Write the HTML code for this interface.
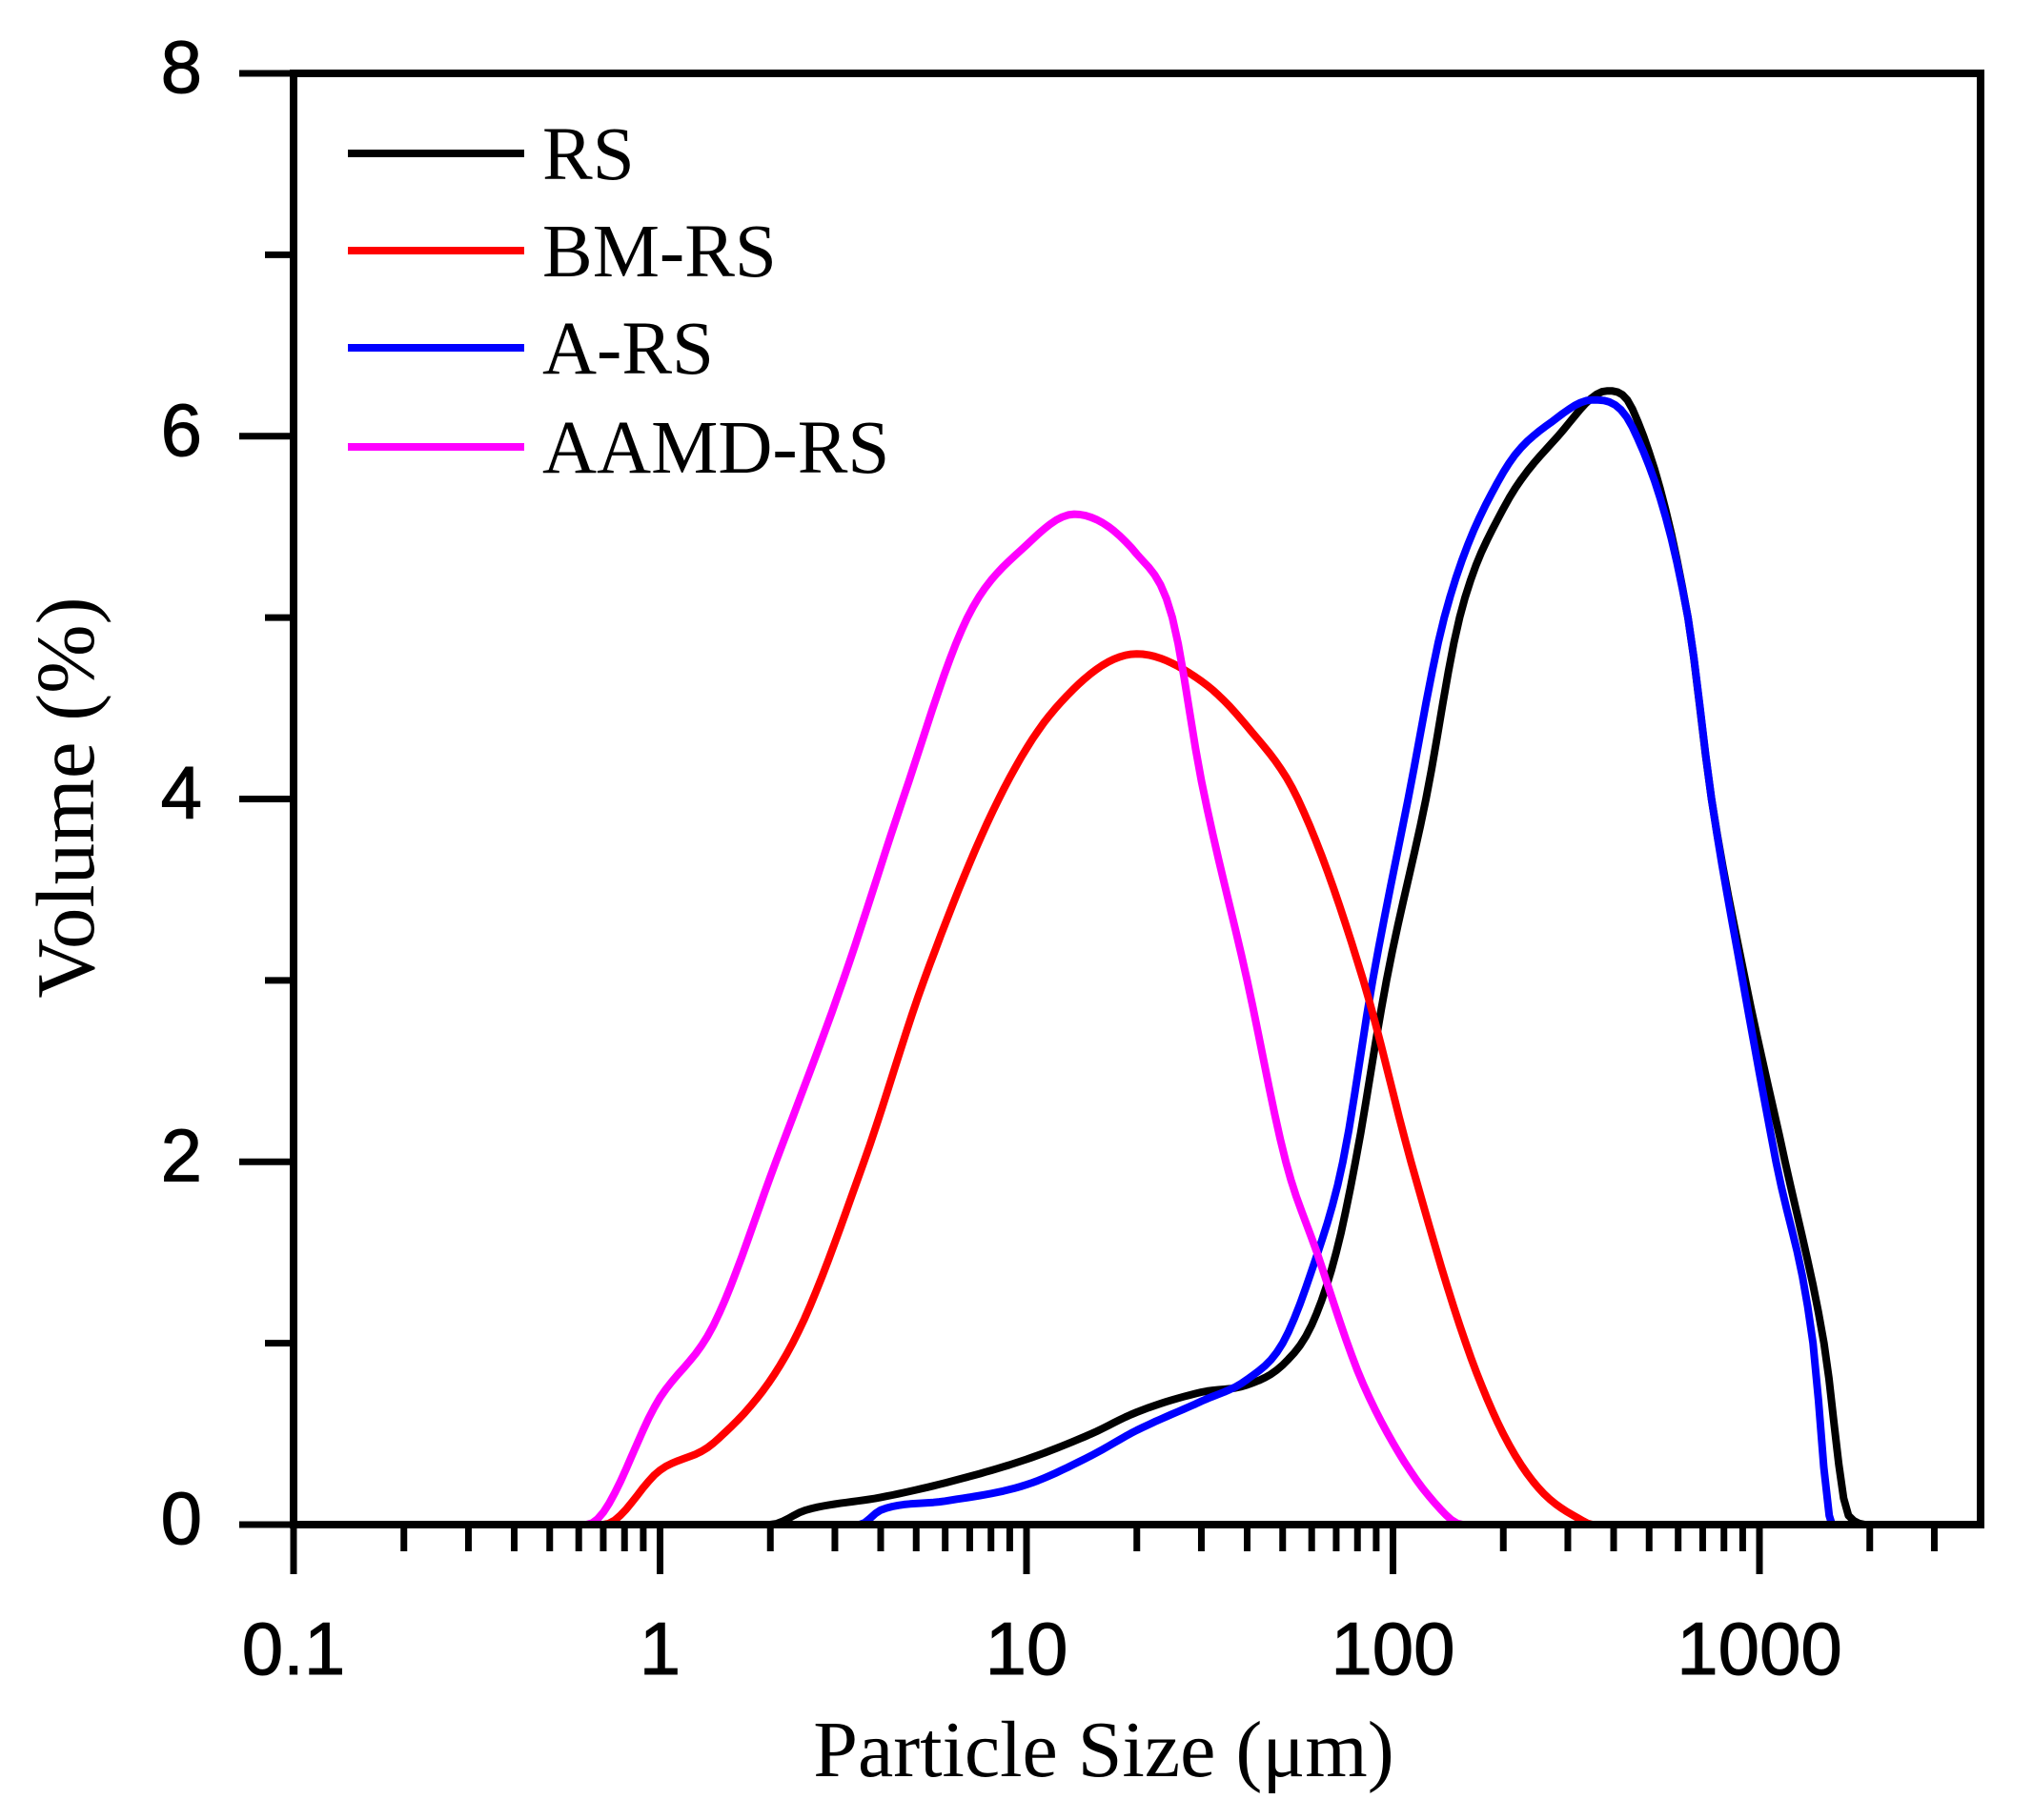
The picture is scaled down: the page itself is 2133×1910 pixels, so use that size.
<!DOCTYPE html>
<html><head><meta charset="utf-8"><style>
html,body{margin:0;padding:0;background:#fff;}
svg{display:block;}
</style></head><body>
<svg id="chart" width="2133" height="1910" xmlns="http://www.w3.org/2000/svg">
<g id="plot"></g>
</svg>
<script>
const seriesNames = ["RS","BM-RS","A-RS","AAMD-RS"];
const seriesColors = ["#000000","#ff0000","#0000ff","#ff00ff"];
const rsX = [0.1,2,2.5,4,6,10,15,20,30,40,50,60,70,79,96,123,152,200,282,385,450,638,740,915,1175,1500,1750,2000,3300];
const rsY = [0,0,0.08,0.15,0.23,0.36,0.5,0.62,0.73,0.77,0.88,1.1,1.5,2,3,4,5,5.6,6.0,6.25,6.15,5,4,3,2,1,0.05,0,0];
const bmX = [0.1,0.7,1,1.4,2.3,3.6,5.25,8.4,12,20,30,40,55,83,112,158,200,250,330,350,3300];
const bmY = [0,0,0.3,0.45,1,2,3,4,4.5,4.8,4.65,4.4,4,3,2,1,0.5,0.2,0.02,0,0];
const arsX = [0.1,3.5,4,6,10,15,20,30,40,50,60,73,88,110,138,200,280,350,450,638,740,900,1110,1400,1550,1600,3300];
const arsY = [0,0,0.08,0.13,0.22,0.38,0.52,0.68,0.8,1.0,1.4,2,3,4,5,5.8,6.1,6.2,6.05,5,4,3,2,1,0.05,0,0];
const aamdX = [0.1,0.63,1,1.4,2.07,3.16,4.6,6.9,10,13.5,20,25,30,40,51,62,80,100,130,155,3300];
const aamdY = [0,0,0.7,1.1,2,3,4,5,5.4,5.57,5.35,5.0,4.1,3.0,2.0,1.5,0.85,0.45,0.12,0,0];
const xTickLabels = ["0.1","1","10","100","1000"];
const xTickValues = [0.1,1,10,100,1000];
const yTickLabels = ["0","2","4","6","8"];
const yTickValues = [0,2,4,6,8];

const L=308,R=2078,T=77,B=1600,DEC=384.5;
function sx(v){return L+(Math.log10(v)+1)*DEC;}
function sy(v){return B-v*(B-T)/8;}
const NS="http://www.w3.org/2000/svg";
const g=document.getElementById('plot');
function mk(tag,attrs,parent){const e=document.createElementNS(NS,tag);for(const k in attrs)e.setAttribute(k,attrs[k]);(parent||g).appendChild(e);return e;}

function monotonePath(xs,ys){
  const X=xs.map(v=>Math.log10(v)), n=X.length;
  const d=[],m=new Array(n);
  for(let i=0;i<n-1;i++)d.push((ys[i+1]-ys[i])/(X[i+1]-X[i]));
  m[0]=d[0];m[n-1]=d[n-2];
  for(let i=1;i<n-1;i++){m[i]=(d[i-1]*d[i]<=0)?0:(d[i-1]+d[i])/2;}
  for(let i=0;i<n-1;i++){
    if(d[i]===0){m[i]=0;m[i+1]=0;continue;}
    const a=m[i]/d[i],b=m[i+1]/d[i],s=a*a+b*b;
    if(s>9){const t=3/Math.sqrt(s);m[i]=t*a*d[i];m[i+1]=t*b*d[i];}
  }
  let p="";
  for(let i=0;i<n-1;i++){
    const h=X[i+1]-X[i];
    const steps=Math.max(2,Math.ceil(h*60));
    for(let k=(i===0?0:1);k<=steps;k++){
      const t=k/steps,t2=t*t,t3=t2*t;
      const y=(2*t3-3*t2+1)*ys[i]+(t3-2*t2+t)*h*m[i]+(-2*t3+3*t2)*ys[i+1]+(t3-t2)*h*m[i+1];
      const px=L+(X[i]+t*h+1)*DEC, py=sy(Math.max(0,y));
      p+=(p?" L":"M")+px.toFixed(1)+","+py.toFixed(1);
    }
  }
  return p;
}

const allX=[rsX,bmX,arsX,aamdX], allY=[rsY,bmY,arsY,aamdY];
[0,2,1,3].forEach(i=>{
  const p=mk('path',{d:monotonePath(allX[i],allY[i]),fill:'none',stroke:seriesColors[i],'stroke-width':8,'stroke-linejoin':'round'});
  
  
});

const fr=mk('rect',{x:L,y:T,width:R-L,height:B-T,fill:'none',stroke:'#000','stroke-width':8});



for(let v=0;v<=8;v++){
  const major=v%2===0;
  const t=mk('line',{x1:L,x2:L-(major?57:30),y1:sy(v),y2:sy(v),stroke:'#000','stroke-width':7});
  
  
}
yTickValues.forEach((v,i)=>{
  const t=mk('text',{x:212,y:sy(v)+20,'text-anchor':'end','font-family':'Liberation Sans, sans-serif','font-size':78,stroke:'#000','stroke-width':1});
  t.textContent=yTickLabels[i];
  
  
});
for(let e=-1;e<=3;e++){
  for(let m=1;m<=9;m++){
    const v=m*Math.pow(10,e);
    if(v>3300)break;
    const t=mk('line',{x1:sx(v),x2:sx(v),y1:B,y2:B+(m===1?52:28),stroke:'#000','stroke-width':7});
    
    
  }
}
xTickValues.forEach((v,i)=>{
  const t=mk('text',{x:sx(v),y:1757,'text-anchor':'middle','font-family':'Liberation Sans, sans-serif','font-size':78,stroke:'#000','stroke-width':1});
  t.textContent=xTickLabels[i];
  
  
});
const xt=mk('text',{x:1158,y:1864,'text-anchor':'middle','font-family':'Liberation Serif, serif','font-size':84});
xt.textContent="Particle Size (μm)";


const yt=mk('text',{x:0,y:0,'text-anchor':'middle','font-family':'Liberation Serif, serif','font-size':87,transform:'translate(98,837) rotate(-90)'});
yt.textContent="Volume (%)";


const ly=[161,263,365,469];
seriesNames.forEach((n,i)=>{
  const ln=mk('line',{x1:365,x2:550,y1:ly[i],y2:ly[i],stroke:seriesColors[i],'stroke-width':8});
  
  
  const t=mk('text',{x:569,y:ly[i]+27,'font-family':'Liberation Serif, serif','font-size':79});
  t.textContent=n;
  
  
});
</script>
</body></html>
